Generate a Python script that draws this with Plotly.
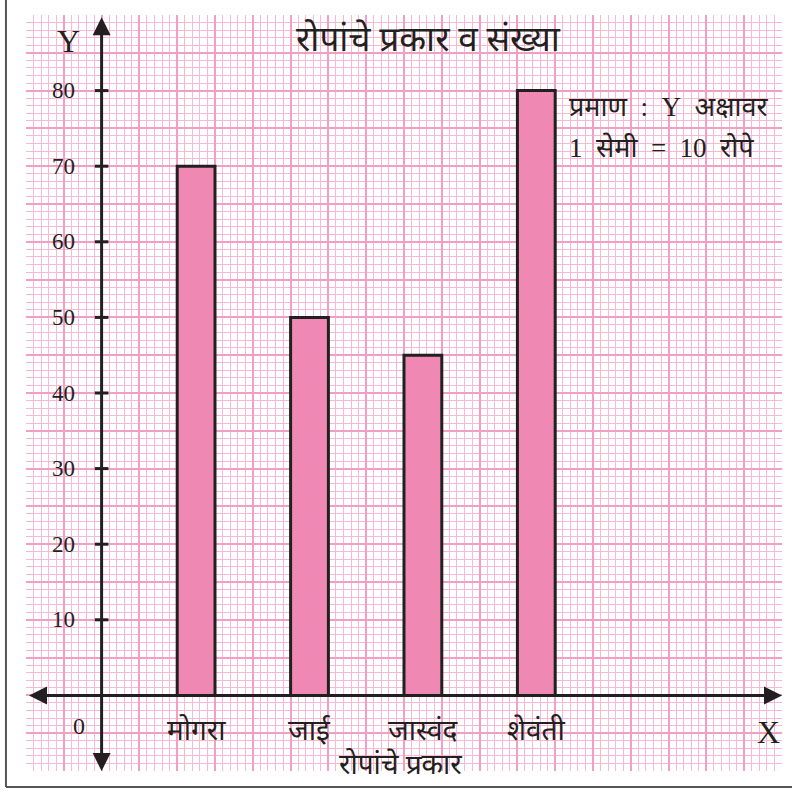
import plotly.graph_objects as go

# ---- data ----
categories = ["मोगरा", "जाई", "जास्वंद", "शेवंती"]
counts = [70, 50, 45, 80]
y_ticks = [10, 20, 30, 40, 50, 60, 70, 80]
title_text = "रोपांचे प्रकार व संख्या"
x_title = "रोपांचे प्रकार"
NB = "\u00a0"
scale_lines = ["प्रमाण" + NB + " :" + NB + " Y" + NB + " अक्षावर",
               "1" + NB + " सेमी" + NB + " =" + NB + " 10" + NB + " रोपे"]

# x axis in centimetres of graph paper; bars 0.5 cm wide, 1.5 cm apart
bar_x = [1.25 + 1.5 * i for i in range(len(categories))]

INK = "#231f20"
BAR = "#f088b4"
MINOR = "#f8b9d5"
MAJOR = "#f39ec5"
SERIF = "Liberation Serif, Noto Sans, serif"

fig = go.Figure()
fig.add_trace(go.Bar(
    x=bar_x, y=counts, width=0.5,
    marker=dict(color=BAR, line=dict(color=INK, width=3)),
    hoverinfo="skip", showlegend=False,
))

fig.update_layout(
    width=792, height=792,
    margin=dict(l=26, r=10, t=15, b=21),
    paper_bgcolor="white", plot_bgcolor="white",
    xaxis=dict(range=[-1, 9], dtick=0.5, tick0=0, showgrid=True,
               gridcolor=MAJOR, gridwidth=1.6, zeroline=False,
               showticklabels=False, ticks="", fixedrange=True,
               minor=dict(dtick=0.1, tick0=0, showgrid=True, gridcolor=MINOR, gridwidth=1.1)),
    yaxis=dict(range=[-10, 90], dtick=5, tick0=0, showgrid=True,
               gridcolor=MAJOR, gridwidth=1.6, zeroline=False,
               showticklabels=False, ticks="", fixedrange=True,
               minor=dict(dtick=1, tick0=0, showgrid=True, gridcolor=MINOR, gridwidth=1.1)),
)

ann = []
# axes with arrows on both ends
ann.append(dict(x=9, y=0, ax=-0.98, ay=0, xref="x", yref="y", axref="x", ayref="y",
                text="", showarrow=True, arrowhead=2, startarrowhead=2, arrowside="end+start",
                arrowwidth=3, arrowsize=1.2, startarrowsize=1.2, arrowcolor=INK))
ann.append(dict(x=0, y=89.7, ax=0, ay=-10.2, xref="x", yref="y", axref="x", ayref="y",
                text="", showarrow=True, arrowhead=2, startarrowhead=2, arrowside="end+start",
                arrowwidth=3, arrowsize=1.2, startarrowsize=1.2, arrowcolor=INK))

shapes = []
for t in y_ticks:
    shapes.append(dict(type="line", xref="x", yref="y", x0=-0.09, x1=0.09, y0=t, y1=t,
                       line=dict(color=INK, width=3)))
    ann.append(dict(x=-0.5, y=t, xref="x", yref="y", text=str(t), showarrow=False,
                    font=dict(family=SERIF, size=23, color=INK), xanchor="center", yanchor="middle"))

ann.append(dict(x=-0.3, y=-4.0, xref="x", yref="y", text="0", showarrow=False,
                font=dict(family=SERIF, size=24, color=INK)))
ann.append(dict(x=-0.44, y=86.6, xref="x", yref="y", text="Y", showarrow=False,
                font=dict(family=SERIF, size=32, color=INK)))
ann.append(dict(x=8.82, y=-4.9, xref="x", yref="y", text="X", showarrow=False,
                font=dict(family=SERIF, size=32, color=INK)))

for xc, name in zip(bar_x, categories):
    ann.append(dict(x=xc, y=-4.6, xref="x", yref="y", text=name, showarrow=False,
                    font=dict(family=SERIF, size=28, color=INK)))

ann.append(dict(x=3.96, y=-9.1, xref="x", yref="y", text=x_title, showarrow=False,
                font=dict(family=SERIF, size=28, color=INK)))
ann.append(dict(x=4.33, y=86.8, xref="x", yref="y", text=title_text, showarrow=False,
                font=dict(family=SERIF, size=35, color=INK)))
for i, line in enumerate(scale_lines):
    ann.append(dict(x=6.15, y=77.8 - 5.3 * i, xref="x", yref="y", text=line, showarrow=False,
                    xanchor="left", font=dict(family=SERIF, size=27, color=INK)))

# outer frame (left and bottom rules)
shapes.append(dict(type="line", xref="paper", yref="paper", x0=-0.0265, x1=-0.0265, y0=-0.021, y1=1.03,
                   line=dict(color="#555555", width=2)))
shapes.append(dict(type="line", xref="paper", yref="paper", x0=-0.0265, x1=1.02, y0=-0.021, y1=-0.021,
                   line=dict(color="#555555", width=2)))

fig.update_layout(annotations=ann, shapes=shapes)
fig.write_html("out.html", config={"displayModeBar": False},
               post_script="document.body.style.margin='0px';document.body.style.overflow='hidden';"
                           "document.documentElement.style.overflow='hidden';")
